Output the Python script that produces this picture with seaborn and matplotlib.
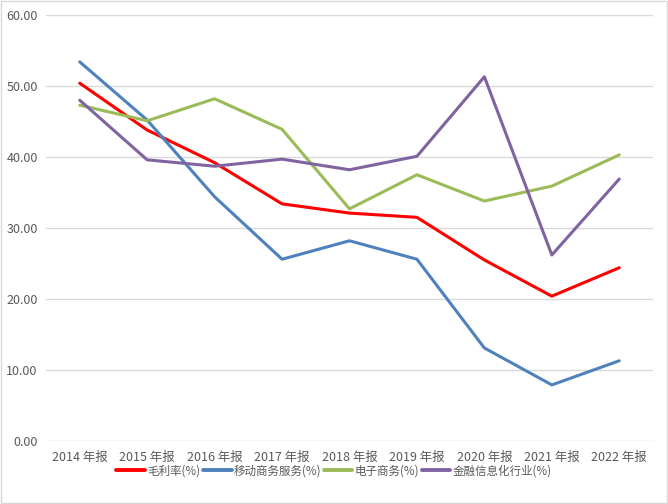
import pandas as pd
import matplotlib.pyplot as plt
import seaborn as sns

years = ['2014 年报', '2015 年报', '2016 年报', '2017 年报', '2018 年报',
         '2019 年报', '2020 年报', '2021 年报', '2022 年报']
gross = [50.4, 43.8, 39.2, 33.4, 32.1, 31.5, 25.5, 20.4, 24.4]
mobile = [53.4, 45.2, 34.4, 25.6, 28.2, 25.6, 13.1, 7.9, 11.3]
ecom = [47.3, 45.1, 48.2, 43.9, 32.7, 37.5, 33.8, 35.9, 40.3]
fin = [48.0, 39.6, 38.7, 39.7, 38.2, 40.1, 51.3, 26.2, 36.9]

names = ['毛利率(%)', '移动商务服务(%)', '电子商务(%)', '金融信息化行业(%)']
colors = ['#FF0000', '#4F81BD', '#9BBB59', '#8064A2']

df = pd.DataFrame({'year': years, names[0]: gross, names[1]: mobile,
                   names[2]: ecom, names[3]: fin})
long_df = df.melt(id_vars='year', var_name='series', value_name='value')
long_df['x'] = long_df['year'].map({y: i for i, y in enumerate(years)})

sns.set_style('white')
plt.rcParams['font.family'] = ['Noto Sans CJK SC', 'DejaVu Sans']

fig = plt.figure(figsize=(6.68, 5.04), dpi=100)
ax = fig.add_axes([46 / 668, 1 - 441 / 504, (653 - 46) / 668, (441 - 15) / 504])

sns.lineplot(data=long_df, x='x', y='value', hue='series', hue_order=names,
             palette=colors, linewidth=2.2, ax=ax, legend=False)

ax.set_xlim(-0.5, 8.5)
ax.set_ylim(0, 60)
ax.set_yticks(range(0, 61, 10))
ax.set_yticklabels([f'{v:.2f}' for v in range(0, 61, 10)])
ax.set_xticks(range(len(years)))
ax.set_xticklabels(years)
ax.tick_params(colors='#595959', labelsize=9, length=0, pad=6)
ax.tick_params(axis='x', pad=7)
ax.grid(axis='y', color='#D9D9D9', linewidth=1)
ax.set_axisbelow(True)
for s in ax.spines.values():
    s.set_visible(False)
ax.set_xlabel('')
ax.set_ylabel('')

handles = [plt.Line2D([], [], color=c, linewidth=2.8) for c in colors]
fig.legend(handles, names, loc='center', bbox_to_anchor=(0.5, 1 - 471 / 504),
           ncol=4, frameon=False, fontsize=8.3, handlelength=2.5,
           handletextpad=0.2, columnspacing=0.2, labelcolor='#595959')

# outer border
fig.patches.append(plt.Rectangle((0.002, 0.002), 0.996, 0.996, transform=fig.transFigure,
                                 fill=False, edgecolor='#D9D9D9', linewidth=1))

plt.savefig('out.png', dpi=100)
